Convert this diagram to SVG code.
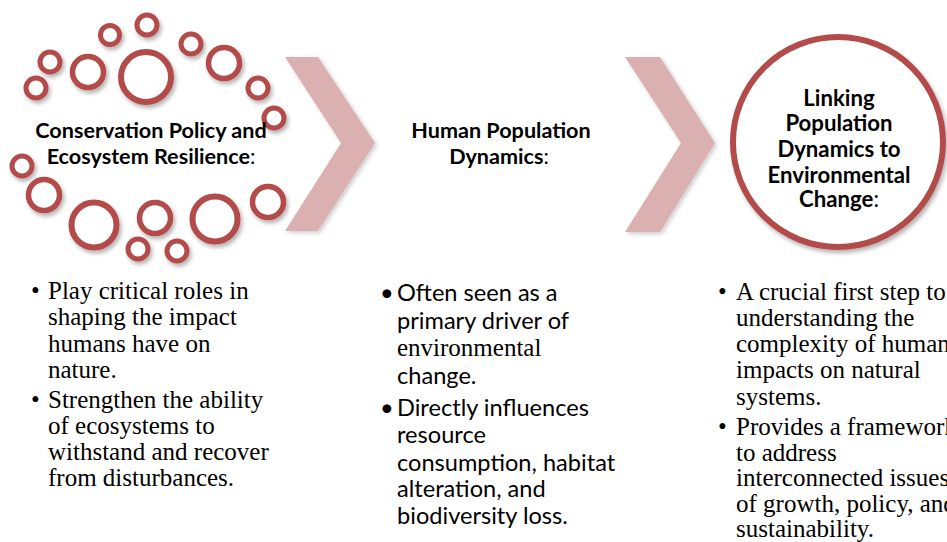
<svg xmlns="http://www.w3.org/2000/svg" width="947" height="542" viewBox="0 0 947 542">
  <style>
    .ring { fill: #ffffff; stroke: #B24B48; }
    .r-s { stroke-width: 5; }
    .r-m { stroke-width: 5.5; }
    .r-l { stroke-width: 6; }
    .chev { fill: #DBB0B0; }
    .head { font-family: Lato, "Liberation Sans", sans-serif; font-weight: 700; font-size: 21.6px; fill: #000; text-anchor: middle; }
    .big { font-size: 22.2px; }
    .colon { font-weight: 400; }
    .serif { font-family: "Liberation Serif", "Times New Roman", serif; font-size: 25px; fill: #000; }
    .sans { font-family: Lato, "Liberation Sans", sans-serif; font-size: 23.6px; fill: #000; }
  </style>
  <defs>
    <filter id="shadow" x="-20%" y="-20%" width="150%" height="150%">
      <feDropShadow dx="2" dy="3" stdDeviation="2" flood-color="#000" flood-opacity="0.3"/>
    </filter>
    <filter id="shadow-soft" x="-20%" y="-20%" width="150%" height="150%">
      <feDropShadow dx="2" dy="2" stdDeviation="2" flood-color="#000" flood-opacity="0.2"/>
    </filter>
  </defs>

  <rect width="947" height="542" fill="#ffffff"/>

  <!-- chevron arrows between the stages -->
  <g id="connectors" filter="url(#shadow-soft)">
    <polygon class="chev" points="285,57 318,57 375,143 318,231 285,231 341,143"/>
    <polygon class="chev" points="625,57 660,57 715,143 660,232 625,232 681,143"/>
  </g>

  <!-- stage 1: ring cluster -->
  <g id="conservation">
    <g filter="url(#shadow)">
      <circle class="ring r-l" cx="146" cy="77" r="25"/>
      <circle class="ring r-m" cx="88" cy="72" r="15.5"/>
      <circle class="ring r-s" cx="110" cy="35" r="9.5"/>
      <circle class="ring r-s" cx="147" cy="25" r="10"/>
      <circle class="ring r-s" cx="191" cy="44" r="10"/>
      <circle class="ring r-m" cx="224" cy="63" r="15.5"/>
      <circle class="ring r-s" cx="258" cy="88" r="10"/>
      <circle class="ring r-s" cx="274" cy="118" r="10"/>
      <circle class="ring r-s" cx="50" cy="62" r="10"/>
      <circle class="ring r-s" cx="36" cy="88" r="10"/>
      <circle class="ring r-s" cx="22" cy="166" r="10"/>
      <circle class="ring r-m" cx="44" cy="195" r="15.5"/>
      <circle class="ring r-l" cx="94" cy="225" r="22.5"/>
      <circle class="ring r-s" cx="138" cy="249" r="10"/>
      <circle class="ring r-m" cx="155" cy="218" r="15.5"/>
      <circle class="ring r-s" cx="177" cy="251" r="10"/>
      <circle class="ring r-l" cx="215" cy="219" r="22.5"/>
      <circle class="ring r-m" cx="268" cy="202" r="15.5"/>
    </g>
    <text class="head" x="151" y="138">Conservation Policy and</text>
    <text class="head" x="151" y="164">Ecosystem Resilience<tspan class="colon">:</tspan></text>
  </g>

  <!-- stage 2 heading -->
  <g id="population">
    <text class="head" x="501" y="138">Human Population</text>
    <text class="head" x="499" y="164">Dynamics<tspan class="colon">:</tspan></text>
  </g>

  <!-- stage 3: outlined circle -->
  <g id="linking">
    <circle cx="838" cy="142" r="105" fill="#ffffff" stroke="#B24B48" stroke-width="6" filter="url(#shadow)"/>
    <text class="head big" x="839" y="106">Linking</text>
    <text class="head big" x="839" y="131">Population</text>
    <text class="head big" x="839" y="157">Dynamics to</text>
    <text class="head big" x="839" y="183">Environmental</text>
    <text class="head big" x="839" y="207">Change<tspan class="colon">:</tspan></text>
  </g>

  <!-- bullet lists under each stage -->
  <g id="conservation-notes" class="serif">
    <text x="31" y="299">•</text>
    <text x="48" y="299">Play critical roles in</text>
    <text x="48" y="325">shaping the impact</text>
    <text x="48" y="352">humans have on</text>
    <text x="48" y="378">nature.</text>
    <text x="31" y="408">•</text>
    <text x="48" y="408">Strengthen the ability</text>
    <text x="48" y="434">of ecosystems to</text>
    <text x="48" y="460">withstand and recover</text>
    <text x="48" y="486">from disturbances.</text>
  </g>

  <g id="population-notes" class="sans">
    <text x="380" y="301">•</text>
    <text x="397" y="301">Often seen as a</text>
    <text x="397" y="329">primary driver of</text>
    <text x="397" y="356" class="serif">environmental</text>
    <text x="397" y="384">change.</text>
    <text x="380" y="416">•</text>
    <text x="397" y="416">Directly influences</text>
    <text x="397" y="443">resource</text>
    <text x="397" y="471">consumption, habitat</text>
    <text x="397" y="497">alteration, and</text>
    <text x="397" y="524">biodiversity loss.</text>
  </g>

  <g id="linking-notes" class="serif">
    <text x="718" y="300">•</text>
    <text x="736" y="300">A crucial first step to</text>
    <text x="736" y="326">understanding the</text>
    <text x="736" y="352">complexity of human</text>
    <text x="736" y="378">impacts on natural</text>
    <text x="736" y="405">systems.</text>
    <text x="718" y="435">•</text>
    <text x="736" y="435">Provides a framework</text>
    <text x="736" y="461">to address</text>
    <text x="736" y="486">interconnected issues</text>
    <text x="736" y="512">of growth, policy, and</text>
    <text x="736" y="537">sustainability.</text>
  </g>
</svg>
